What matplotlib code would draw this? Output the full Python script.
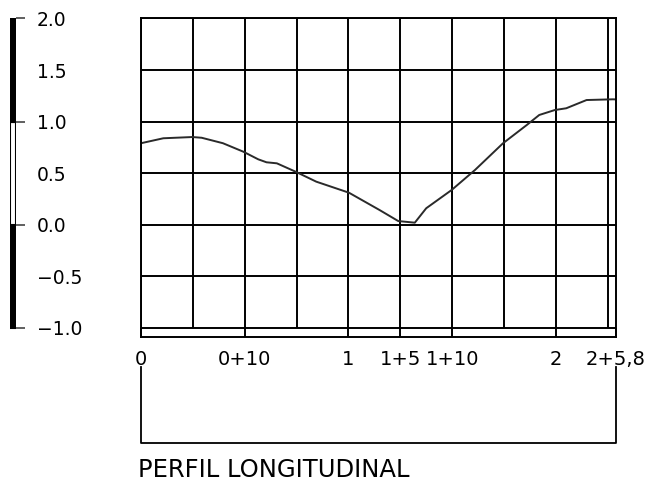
import numpy as np
import matplotlib.pyplot as plt
import matplotlib
matplotlib.rcParams['font.family'] = ['DejaVu Sans']

# Perfil: distancia (m) y cota relativa (m)
dist = [0.0, 2.15, 4.95, 5.85, 7.9, 9.86, 11.3, 12.1, 13.1, 14.9, 16.9, 20.05,
        23.0, 24.8, 26.4, 27.5, 29.95, 32.2, 34.9, 37.2, 38.4, 39.9, 41.0,
        42.96, 45.5, 45.8]
cota = [0.79, 0.838, 0.85, 0.843, 0.79, 0.708, 0.634, 0.605, 0.595, 0.514,
        0.417, 0.31, 0.142, 0.035, 0.019, 0.159, 0.336, 0.53, 0.789, 0.967,
        1.064, 1.112, 1.129, 1.209, 1.216, 1.215]

# Estacas
estacas = [0, 10, 20, 25, 30, 40, 45.8]
estacas_txt = ['0', '0+10', '1', '1+5', '1+10', '2', '2+5,8']

# Escala grafica
escala_ini = [-1.0, 0.0, 1.0]
escala_cor = ['black', 'white', 'black']
escala_ticks = [-1.0, 0.0, 1.0, 2.0]
escala_txt = ['\u22121.0', '0.0', '1.0', '2.0']
escala_med = [-0.5, 0.5, 1.5]
escala_med_txt = ['\u22120.5', '0.5', '1.5']

x_grid = np.arange(0, 46, 5)
y_grid = np.arange(-1.0, 2.01, 0.5)

W, H = 648, 486
fig = plt.figure(figsize=(W / 100, H / 100), dpi=100)

def px(l, t, r, b):
    return [l / W, 1 - b / H, (r - l) / W, (b - t) / H]

ylim = (-1.09, 2.0)

# cuadricula principal
ax = fig.add_axes(px(141, 18.5, 616, 337))
ax.set_xlim(0, 45.8)
ax.set_ylim(*ylim)
ax.vlines(x_grid, -1.0, 2.0, color='black', lw=1.4)
ax.hlines(y_grid, 0, 45.8, color='black', lw=1.4)
ax.plot(dist, cota, color='#2a2a2a', lw=1.4)
for s in ax.spines.values():
    s.set_linewidth(1.4)
ax.set_yticks([])
ax.set_xticks(estacas)
ax.set_xticklabels(estacas_txt, fontsize=14)
ax.tick_params(axis='x', direction='in', length=6.7, width=1.4, pad=9.5)

# escala vertical a la izquierda
axe = fig.add_axes(px(10, 18.5, 16, 337))
axe.set_xlim(-0.5, 0.5)
axe.set_ylim(*ylim)
axe.bar([0] * 3, [1] * 3, bottom=escala_ini, width=1.0, color=escala_cor,
        edgecolor='black', lw=1.5)
for s in axe.spines.values():
    s.set_visible(False)
axe.set_xticks([])
axe.yaxis.tick_right()
axe.set_yticks(escala_ticks)
axe.set_yticklabels(escala_txt, fontsize=13.5)
axe.set_yticks(escala_med, minor=True)
axe.set_yticklabels(escala_med_txt, minor=True, fontsize=13.5)
axe.tick_params(axis='y', which='major', length=6.5, width=1.2,
                color='#444444', pad=8.6)
axe.tick_params(axis='y', which='minor', length=0, pad=15.1)

# corchete bajo el perfil
axb = fig.add_axes(px(141, 367, 616, 443))
axb.set_xlim(0, 45.8)
axb.set_ylim(0, 1)
axb.plot([0, 0, 45.8, 45.8], [1, 0, 0, 1], color='black', lw=1.3,
         clip_on=False)
axb.axis('off')

fig.text(138 / W, 1 - 469.5 / H, 'PERFIL LONGITUDINAL', fontsize=17.5,
         ha='left', va='center')

fig.savefig('out.png', dpi=100)
